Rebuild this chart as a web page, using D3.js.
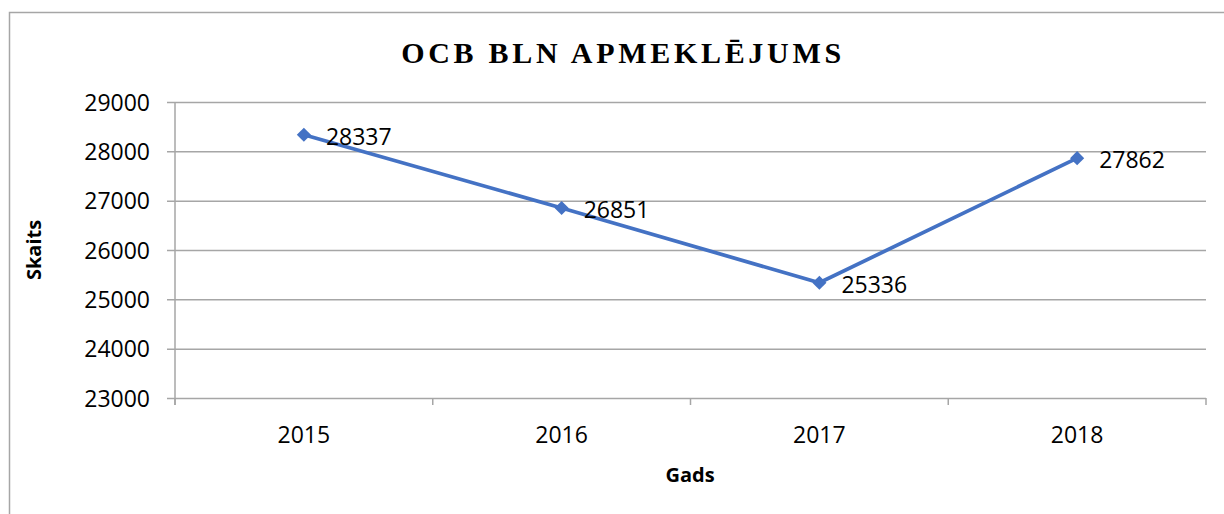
<!DOCTYPE html>
<html>
<head>
<meta charset="utf-8">
<script src="https://cdn.jsdelivr.net/npm/d3@7"></script>
<style>
    body { margin: 0; background: #fff; }
    text { font-family: "Open Sans", "Noto Sans", sans-serif; fill: #000; }
</style>
</head>
<body>
<svg id="chart" width="1224" height="514"></svg>
<script>
var years = ["2015", "2016", "2017", "2018"];
var visits = [28337, 26851, 25336, 27862];
var yTicks = [23000, 24000, 25000, 26000, 27000, 28000, 29000];

function drawChart() {
    var svg = d3.select("#chart");
    var plotLeft = 175, plotRight = 1206, plotTop = 102, plotBottom = 398;
    var grid = "#a6a6a6";

    // outer chart border (runs off the right and bottom edges)
    svg.append("rect")
        .attr("x", 9.5).attr("y", 12.5)
        .attr("width", 1240).attr("height", 520)
        .attr("fill", "none")
        .attr("stroke", grid)
        .attr("stroke-width", 1.5);

    var x = d3.scaleBand().domain(years).range([plotLeft, plotRight]);
    var y = d3.scaleLinear().domain([23000, 29000]).range([plotBottom, plotTop]);

    // gridlines + y ticks
    var yAxis = svg.append("g")
        .attr("transform", "translate(" + plotLeft + ",0)")
        .call(d3.axisLeft(y).tickValues(yTicks).tickSize(8).tickPadding(17)
              .tickFormat(d3.format("d")));
    yAxis.select(".domain").remove();
    yAxis.selectAll("line").attr("stroke", grid).attr("stroke-width", 1.5)
        .attr("x2", -8).attr("x1", plotRight - plotLeft);
    yAxis.selectAll("text").style("font-size", "23px").attr("dy", "0.35em");

    svg.append("line")
        .attr("x1", plotLeft).attr("x2", plotLeft)
        .attr("y1", plotTop).attr("y2", plotBottom + 7)
        .attr("stroke", grid).attr("stroke-width", 1.5);

    // x axis ticks sit between categories
    var bounds = years.map(function(d) { return x(d); }).concat([plotRight]);
    svg.selectAll(".xtick")
        .data(bounds)
        .enter().append("line")
        .attr("x1", function(d) { return d; })
        .attr("x2", function(d) { return d; })
        .attr("y1", plotBottom).attr("y2", plotBottom + 7)
        .attr("stroke", grid).attr("stroke-width", 1.5);

    svg.selectAll(".xlabel")
        .data(years)
        .enter().append("text")
        .attr("x", function(d) { return x(d) + x.bandwidth() / 2; })
        .attr("y", 443)
        .attr("text-anchor", "middle")
        .style("font-size", "23px")
        .text(function(d) { return d; });

    var pts = years.map(function(d, i) {
        return { x: x(d) + x.bandwidth() / 2, y: y(visits[i]), v: visits[i] };
    });

    svg.append("path")
        .datum(pts)
        .attr("fill", "none")
        .attr("stroke", "#4472c4")
        .attr("stroke-width", 3.75)
        .attr("d", d3.line().x(function(d) { return d.x; }).y(function(d) { return d.y; }));

    svg.selectAll(".marker")
        .data(pts)
        .enter().append("path")
        .attr("d", d3.symbol().type(d3.symbolSquare).size(100))
        .attr("transform", function(d) {
            return "translate(" + d.x + "," + d.y + ") rotate(45)"; })
        .attr("fill", "#4472c4");

    svg.selectAll(".vlabel")
        .data(pts)
        .enter().append("text")
        .attr("x", function(d) { return d.x + 22; })
        .attr("y", function(d) { return d.y + 2; })
        .attr("dy", "0.35em")
        .style("font-size", "23px")
        .text(function(d) { return d.v; });

    // titles
    svg.append("text")
        .attr("x", 623).attr("y", 63)
        .attr("text-anchor", "middle")
        .style("font-family", "'Liberation Serif', 'Times New Roman', serif")
        .style("font-weight", "bold")
        .style("font-size", "30px")
        .style("letter-spacing", "3.7px")
        .text("OCB BLN APMEKLĒJUMS");

    svg.append("text")
        .attr("x", 690).attr("y", 482)
        .attr("text-anchor", "middle")
        .style("font-weight", "bold")
        .style("font-size", "20px")
        .text("Gads");

    svg.append("text")
        .attr("transform", "translate(41,250) rotate(-90)")
        .attr("text-anchor", "middle")
        .style("font-weight", "bold")
        .style("font-size", "20px")
        .text("Skaits");
}

drawChart();
</script>
</body>
</html>
